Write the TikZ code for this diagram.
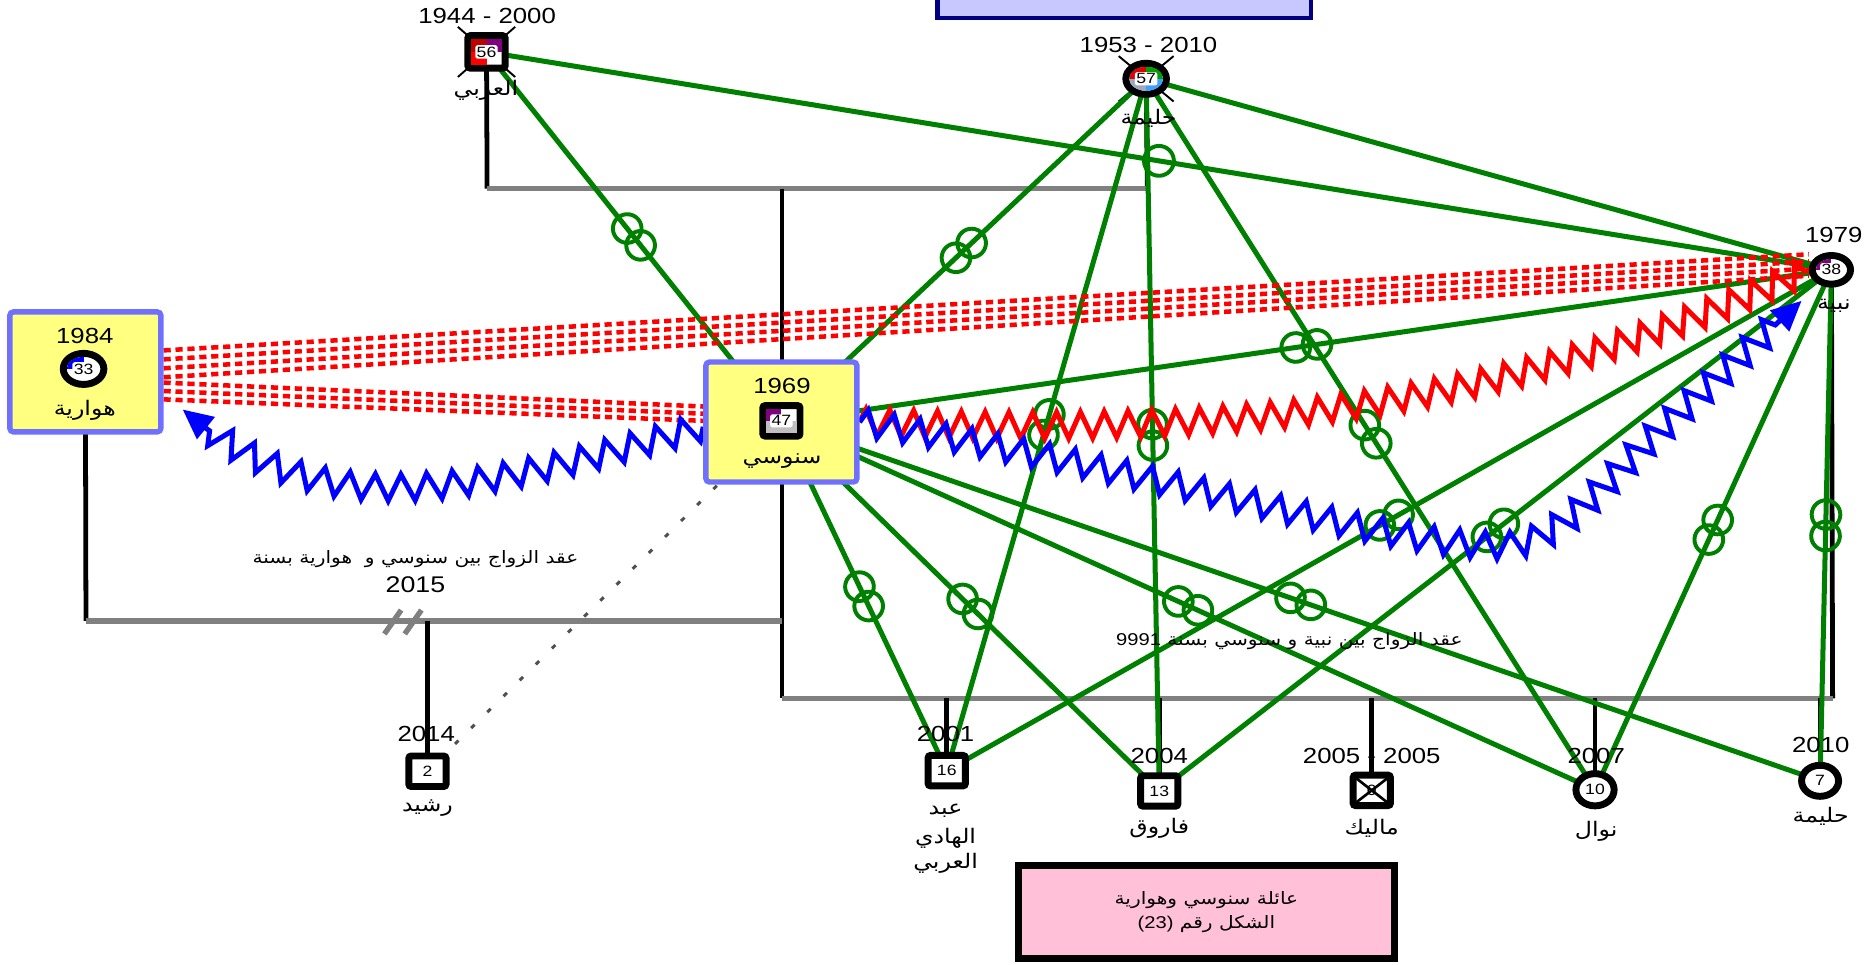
\documentclass[tikz,border=0pt]{standalone}
\usepackage{fontspec}
\setmainfont{Liberation Sans}[FakeStretch=1.18]
\newfontfamily\arabicfont[Script=Arabic,FakeStretch=1.18]{DejaVu Sans}
\TeXXeTstate=1
\usetikzlibrary{decorations.pathmorphing,decorations.markings,arrows.meta,shapes.geometric}
\pgfdeclarelayer{bg}
\pgfsetlayers{bg,main}
\newcommand\artxt[1]{{\arabicfont\beginR #1\endR}}
\definecolor{grn}{HTML}{008000}
\definecolor{gryc}{HTML}{808080}
\definecolor{ylw}{HTML}{FFFF80}
\definecolor{bbord}{HTML}{7070FF}
\definecolor{purp}{HTML}{800080}
\definecolor{dred}{HTML}{C00000}
\definecolor{pinkc}{HTML}{FFC0D8}
\definecolor{navyc}{HTML}{000080}
\definecolor{lav}{HTML}{C8C8FF}
\definecolor{gblue}{HTML}{A0A8C0}
\definecolor{lblue}{HTML}{40A0FF}
\definecolor{lgray}{HTML}{C0C0C0}
\definecolor{dotc}{HTML}{505050}
\definecolor{hred}{HTML}{E00000}
\definecolor{hgrn}{HTML}{00A000}
\begin{document}
\begin{tikzpicture}[x=1pt,y=-1pt,
  blk/.style={line width=4pt, draw=black},
  gry/.style={line width=4.5pt, draw=gryc},
  rel/.style={line width=4.2pt, draw=grn},
  mk/.style={postaction={decorate, decoration={markings, mark=at position 0.5 with {\draw[grn, line width=3.3pt] (-9,0) circle [radius=12] (9,0) circle [radius=12];}}}},
  mkone/.style={postaction={decorate, decoration={markings, mark=at position 0.5 with {\draw[grn, line width=3.3pt] (0,0) circle [radius=12.5];}}}},
  rdash/.style={line width=3.8pt, draw=red, dash pattern=on 6pt off 4pt},
  dotl/.style={line width=2.5pt, draw=dotc, dash pattern=on 4pt off 15pt},
  rzig/.style={line width=4.2pt, draw=red, decorate, decoration={zigzag, amplitude=11pt, segment length=20pt}},
  bzig/.style={line width=4.2pt, draw=blue, decorate, decoration={zigzag, amplitude=11pt, segment length=22pt, post length=26pt}, -{Triangle[length=25pt,width=23pt]}},
  cross/.style={line width=1.6pt, draw=black},
  ybox/.style={draw=bbord, fill=ylw, line width=4.5pt, minimum width=126.5pt, minimum height=100.5pt, inner sep=0, rounded corners=3pt},
  sq/.style={draw=black, fill=white, line width=5.8pt, minimum width=31.2pt, minimum height=25.5pt, inner sep=0, rounded corners=2pt},
  ci/.style={ellipse, draw=black, fill=white, line width=5.8pt, inner sep=0},
  num/.style={font=\fontsize{12.5}{14}\selectfont, fill=white, rounded corners=2pt, inner sep=1.2pt},
  yr/.style={font=\fontsize{18.3}{20}\selectfont, inner sep=0},
  nm/.style={font=\fontsize{16.8}{19}\selectfont, inner sep=0},
  lb/.style={font=\fontsize{14.3}{19}\selectfont, inner sep=0}
]
\useasboundingbox (0,0) rectangle (1568,808);
\begin{pgfonlayer}{bg}
\fill[white] (0,0) rectangle (1568,808);
\end{pgfonlayer}

% boxes
\node[draw=navyc, fill=lav, line width=4pt, minimum width=313pt, minimum height=30pt, inner sep=0] (tb) at (941.5,0) {};
\node[ybox] (haw) at (71.5,311.5) {};
\node[ybox] (sen) at (654.5,353.5) {};
\node[draw=black, fill=pinkc, line width=6pt, minimum width=315pt, minimum height=78pt, inner sep=0] (ttl) at (1010.5,764) {};

% symbols
\node[sq, minimum height=27.2pt] (ara) at (407.5,43.5) {};
\node[ci, minimum width=34pt, minimum height=26pt] (hal) at (960,66) {};
\node[ci, minimum width=32pt, minimum height=24pt] (nab) at (1534,226) {};
\node[ci, minimum width=34pt, minimum height=26pt] (hawS) at (70,309) {};
\node[sq] (senS) at (654.5,352.5) {};
\node[sq] (ras) at (358,646) {};
\node[sq] (abd) at (793,645.5) {};
\node[sq] (far) at (971,662.5) {};
\node[sq] (mal) at (1149,662) {};
\node[ci, minimum width=32pt, minimum height=27pt] (naw) at (1336,661.5) {};
\node[ci, minimum width=31pt, minimum height=26pt] (hl2) at (1524.5,654) {};

% quadrant fills
\fill[dred] ([shift={(-12.7,-10.7)}]ara.center) rectangle (ara.center);
\fill[purp] ([shift={(12.7,-10.7)}]ara.center) rectangle (ara.center);
\fill[red] ([shift={(-12.7,10.7)}]ara.center) rectangle (ara.center);
\fill[purp] ([shift={(-12.7,-9.85)}]senS.center) rectangle (senS.center);
\fill[lgray] ([shift={(-12.7,0)}]senS.center) rectangle ([shift={(12.7,9.85)}]senS.center);
\begin{scope}
\clip (hal.center) ellipse [x radius=14.1, y radius=10.1];
\fill[hred] (hal.center) rectangle ++(-20,-20);
\fill[hgrn] (hal.center) rectangle ++(20,-20);
\fill[gblue] (hal.center) rectangle ++(-20,20);
\fill[lblue] (hal.center) rectangle ++(20,20);
\end{scope}
\begin{scope}
\clip (nab.center) ellipse [x radius=13.1, y radius=9.1];
\fill[purp] (nab.center) rectangle ++(-20,-20);
\end{scope}
\begin{scope}
\clip (hawS.center) ellipse [x radius=14.1, y radius=10.1];
\fill[blue] (hawS.center) rectangle ++(-20,-20);
\end{scope}
\draw[line width=2.2pt] ([shift={(-12.7,-9.85)}]mal.center) -- ([shift={(12.7,9.85)}]mal.center);
\draw[line width=2.2pt] ([shift={(12.7,-9.85)}]mal.center) -- ([shift={(-12.7,9.85)}]mal.center);

% numbers
\node[num] (araN) at (ara) {56};
\node[num] (halN) at (hal) {57};
\node[num] (nabN) at (nab) {38};
\node[num] (hawN) at (hawS) {33};
\node[num] (senN) at (senS) {47};
\node[num] (rasN) at (ras) {2};
\node[num] (abdN) at (abd) {16};
\node[num] (farN) at (far) {13};
\node[num, fill=none] (malN) at (mal) {0};
\node[num] (nawN) at (naw) {10};
\node[num] (hl2N) at (hl2) {7};

% years
\node[yr] (araY) at (408,13) {1944 - 2000};
\node[yr] (halY) at (962,38) {1953 - 2010};
\node[yr] (nabY) at (1536,197) {1979};
\node[yr] (hawY) at (71,281) {1984};
\node[yr] (senY) at (655,323) {1969};
\node[yr] (rasY) at (357,615) {2014};
\node[yr] (abdY) at (792,615) {2001};
\node[yr] (farY) at (971,633) {2004};
\node[yr] (malY) at (1149,633) {2005 - 2005};
\node[yr] (nawY) at (1337,633) {2007};
\node[yr] (hl2Y) at (1525,624) {2010};

% names
\node[nm] (araL) at (407,76) {\artxt{العربي}};
\node[nm] (halL) at (962,99) {\artxt{حليمة}};
\node[nm] (nabL) at (1536,256) {\artxt{نبية}};
\node[nm] (hawL) at (71,344) {\artxt{هوارية}};
\node[nm] (senL) at (655,386) {\artxt{سنوسي}};
\node[nm] (rasL) at (358,677) {\artxt{رشيد}};
\node[nm] (abdL1) at (792,679) {\artxt{عبد}};
\node[nm] (abdL2) at (792,702) {\artxt{الهادي}};
\node[nm] (abdL3) at (792,723) {\artxt{العربي}};
\node[nm] (farL) at (971,694) {\artxt{فاروق}};
\node[nm] (malL) at (1149,694) {\artxt{ماليك}};
\node[nm] (nawL) at (1337,696) {\artxt{نوال}};
\node[nm] (hl2L) at (1525,684) {\artxt{حليمة}};

% labels
\node[lb] (m1a) at (348,468) {\artxt{عقد الزواج بين سنوسي و\ \ هوارية بسنة}};
\node[yr, font=\fontsize{19}{20}\selectfont] (m1b) at (348,490) {2015};
\node[lb] (m2) at (1080,537) {\artxt{عقد الزواج بين نبية و سنوسي بسنة \beginL{\rmfamily 9991}\endL}};
\node[lb] (tt1) at (1010.5,754) {\artxt{عائلة سنوسي وهوارية}};
\node[lb] (tt2) at (1010.5,774) {\artxt{الشكل رقم \beginL{\rmfamily (23)}\endL}};

% coordinates
\coordinate (mA) at (408,158);
\coordinate (mB) at (961,158);
\coordinate (sU) at (655,158);
\coordinate (sD) at (655,585);
\coordinate (sM) at (655,520);
\coordinate (hD) at (72,520);
\coordinate (nD) at (1535,585);
\coordinate (tipH) at (153,343);
\coordinate (tipN) at (1509,252);
\coordinate (dv1a) at (322,531);
\coordinate (dv1b) at (336,511);
\coordinate (dv2a) at (339,531);
\coordinate (dv2b) at (353,511);

\begin{pgfonlayer}{bg}
% death crosses
\draw[cross] ([shift={(-24,-21)}]ara.center) -- ([shift={(24,21)}]ara.center);
\draw[cross] ([shift={(24,-21)}]ara.center) -- ([shift={(-24,21)}]ara.center);
\draw[cross] ([shift={(-23,-19)}]hal.center) -- ([shift={(23,19)}]hal.center);
\draw[cross] ([shift={(23,-19)}]hal.center) -- ([shift={(-23,19)}]hal.center);
% genealogy
\draw[blk] (ara.center) -- (mA);
\draw[blk] (hal.center) -- (mB);
\draw[gry] (mA) -- (mB);
\draw[blk] (sU) -- (sD);
\draw[blk] (haw.center) -- (hD);
\draw[gry] (hD) -- (sM);
\draw[gry] (dv1a) -- (dv1b);
\draw[gry] (dv2a) -- (dv2b);
\draw[blk] (ras.center) -- (ras.center |- sM);
\draw[blk] (nab.center) -- (nD);
\draw[gry] (sD) -- (nD);
\draw[blk] (abd.center) -- (abd.center |- sD);
\draw[blk] (far.center) -- (far.center |- sD);
\draw[blk] (mal.center) -- (mal.center |- sD);
\draw[blk] (naw.center) -- (naw.center |- sD);
\draw[blk] (hl2.center) -- (hl2.center |- sD);
% dotted
\draw[dotl] (sen.center) -- (ras.center);
% green relations
\draw[rel, mk] (ara.center) -- (sen.center);
\draw[rel, mk] (hal.center) -- (sen.center);
\draw[rel, mkone] (ara.center) -- (nab.center);
\draw[rel] (hal.center) -- (nab.center);
\draw[rel, mk] (sen.center) -- (nab.center);
\draw[rel, mk] (hal.center) -- (abd.center);
\draw[rel, mk] (hal.center) -- (far.center);
\draw[rel, mk] (hal.center) -- (naw.center);
\draw[rel, mk] (sen.center) -- (abd.center);
\draw[rel, mk] (sen.center) -- (far.center);
\draw[rel, mk] (sen.center) -- (naw.center);
\draw[rel, mk] (sen.center) -- (hl2.center);
\draw[rel, mk] (nab.center) -- (abd.center);
\draw[rel, mk] (nab.center) -- (far.center);
\draw[rel, mk] (nab.center) -- (naw.center);
\draw[rel, mk] (nab.center) -- (hl2.center);
% red dashed
\draw[rdash] ([yshift=18pt]haw.east) -- ([yshift=13pt]nab.west);
\draw[rdash] ([yshift=10.5pt]haw.east) -- ([yshift=7pt]nab.west);
\draw[rdash] ([yshift=3pt]haw.east) -- ([yshift=1pt]nab.west);
\draw[rdash] ([yshift=-4.5pt]haw.east) -- ([yshift=-5pt]nab.west);
\draw[rdash] ([yshift=-9pt]haw.east) -- ([yshift=13pt]sen.west);
\draw[rdash] ([yshift=-16pt]haw.east) -- ([yshift=7pt]sen.west);
\draw[rdash] ([yshift=-23pt]haw.east) -- ([yshift=1pt]sen.west);
% zigzags
\draw[rzig] (sen.east) .. controls (1050,365) and (1250,345) .. (nab.west);
\draw[bzig] (sen.east) .. controls (1000,400) and (1150,455) .. (1255,457) .. controls (1300,458) and (1330,420) .. (1380,370) -- (tipN);
\draw[bzig] ([yshift=-4pt]sen.west) .. controls (400,410) and (270,445) .. (tipH);
\end{pgfonlayer}
\end{tikzpicture}
\end{document}
